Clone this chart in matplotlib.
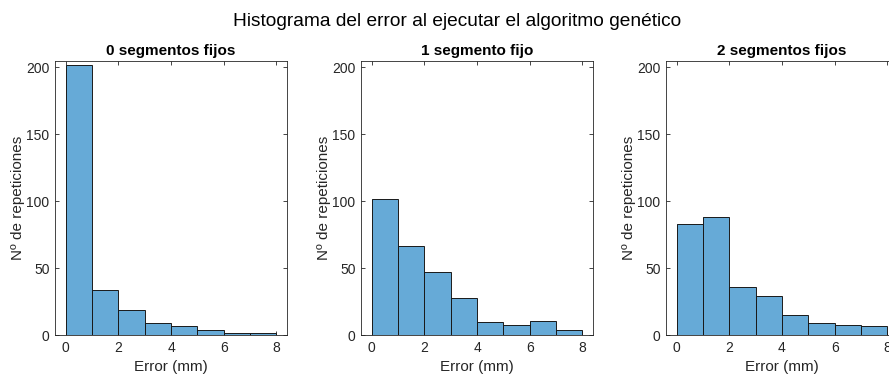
import numpy as np
import matplotlib
matplotlib.use("Agg")
import matplotlib.pyplot as plt

plt.rcParams['font.family'] = ['Liberation Sans', 'DejaVu Sans']

bin_edges = [0, 1, 2, 3, 4, 5, 6, 7, 8]
titles = ["0 segmentos fijos", "1 segmento fijo", "2 segmentos fijos"]
counts_0 = [202, 34, 19, 9, 7, 4, 2, 2]
counts_1 = [102, 67, 47, 28, 10, 8, 11, 4]
counts_2 = [83, 88, 36, 29, 15, 9, 8, 7]
all_counts = [counts_0, counts_1, counts_2]
x_ticks = [0, 2, 4, 6, 8]
y_ticks = [0, 50, 100, 150, 200]

W, H = 889, 374
fig = plt.figure(figsize=(W / 100, H / 100), dpi=100)
fig.patch.set_facecolor('white')

text_col = '#262626'
axis_col = '#262626'
face = (0.0, 0.447, 0.741)

lefts = [55, 361, 666]
width_px = 232
top_px, bottom_px = 60.7, 335.3

for left, counts, title in zip(lefts, all_counts, titles):
    ax = fig.add_axes([left / W, (H - bottom_px) / H, width_px / W, (bottom_px - top_px) / H])
    edges = np.array(bin_edges, dtype=float)
    ax.bar(edges[:-1], counts, width=np.diff(edges), align='edge',
           color=face, alpha=0.6, edgecolor='none', zorder=2)
    ax.bar(edges[:-1], counts, width=np.diff(edges), align='edge',
           facecolor='none', edgecolor='#1a1a1a', linewidth=0.7, zorder=3)
    ax.set_xlim(-0.4, 8.4)
    ax.set_ylim(0, 205)
    ax.set_xticks(x_ticks)
    ax.set_yticks(y_ticks)
    ax.tick_params(direction='in', top=True, right=True, length=3, width=0.6,
                   colors=axis_col, labelsize=10, labelcolor=text_col, pad=4)
    for s in ax.spines.values():
        s.set_color(axis_col)
        s.set_linewidth(0.6)
    ax.set_title(title, fontsize=11, fontweight='bold', color='black', pad=4)
    ax.set_xlabel("Error (mm)", fontsize=11, color=text_col, labelpad=4)
    ax.set_ylabel("Nº de repeticiones", fontsize=11, color=text_col, labelpad=1)

fig.text(457 / W, 1 - 21 / H, "Histograma del error al ejecutar el algoritmo genético",
         ha='center', va='center', fontsize=13.8, color='black')

fig.savefig("out.png", dpi=100)
